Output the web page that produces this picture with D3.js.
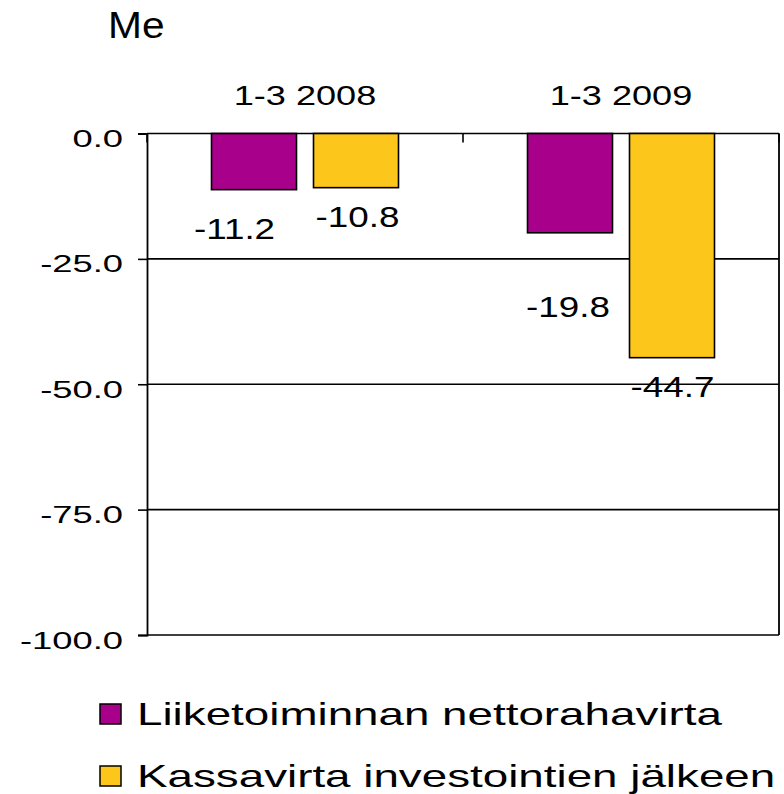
<!DOCTYPE html>
<html>
<head>
<meta charset="utf-8">
<script src="https://cdn.jsdelivr.net/npm/d3@7"></script>
<style>
  html, body { margin: 0; padding: 0; background: #fff; }
  svg { display: block; }
  text { font-family: "Liberation Sans", Arial, sans-serif; fill: #000; }
</style>
</head>
<body>
<div id="chart"></div>
<script>
// ---- data ----
const categories = ["1-3 2008", "1-3 2009"];
const seriesNames = ["Liiketoiminnan nettorahavirta", "Kassavirta investointien jälkeen"];
const liiketoiminnanNettorahavirta = [-11.2, -19.8];
const kassavirtaInvestointienJalkeen = [-10.8, -44.7];
const yTickValues = [0, -25, -50, -75, -100];
const unitLabel = "Me";

// ---- styles / layout ----
const seriesColors = ["#A8008A", "#FCC71A"];
const W = 784, H = 794;
const plot = { left: 147, right: 779, top: 133.5, bottom: 635 };
// label nudges (dx, dy from bar end) to mimic the reference label placement
const labelNudge = [
  [[-19.5, 49], [-2, 84]],
  [[1.5, 39], [0.5, 39]]
];

const seriesValues = [liiketoiminnanNettorahavirta, kassavirtaInvestointienJalkeen];

const svg = d3.select("#chart").append("svg")
  .attr("width", W).attr("height", H);

const y = d3.scaleLinear().domain([-100, 0]).range([plot.bottom, plot.top]);
const x0 = d3.scaleBand().domain(categories).range([plot.left, plot.right]).padding(0);
const groupPad = 64.5;
const x1 = d3.scaleBand().domain(d3.range(seriesNames.length))
  .range([groupPad, x0.bandwidth() - groupPad]).paddingInner(0.1667).paddingOuter(0);

function scaledText(g, x, yy, txt, size, sx, anchor) {
  return g.append("text")
    .attr("transform", `translate(${x},${yy}) scale(${sx},1)`)
    .attr("text-anchor", anchor || "middle")
    .style("font-size", size + "px")
    .text(txt);
}

// gridlines
svg.append("g").selectAll("line").data(yTickValues).join("line")
  .attr("x1", plot.left).attr("x2", plot.right)
  .attr("y1", d => y(d)).attr("y2", d => y(d))
  .attr("stroke", "#000").attr("stroke-width", 1.6);

// y axis
const yAxis = svg.append("g").attr("transform", `translate(${plot.left},0)`)
  .call(d3.axisLeft(y).tickValues(yTickValues).tickSize(9).tickFormat(d => d.toFixed(1)));
yAxis.select(".domain").attr("stroke", "#000").attr("stroke-width", 1.8);
yAxis.selectAll(".tick line").attr("stroke", "#000").attr("stroke-width", 1.6);
const ySx = 1.58;
yAxis.selectAll(".tick text")
  .attr("transform", `scale(${ySx},1)`)
  .attr("x", -24 / ySx)
  .attr("dy", "13px")
  .attr("font-family", null)
  .attr("font-size", null)
  .style("font-size", "23px")
  .style("font-family", '"Liberation Sans", Arial, sans-serif');

// right border
svg.append("line")
  .attr("x1", plot.right).attr("x2", plot.right)
  .attr("y1", y(0)).attr("y2", y(-100))
  .attr("stroke", "#000").attr("stroke-width", 1.8);

// category boundary ticks at zero line
const boundaries = categories.map(c => x0(c)).concat([x0.range()[1]]);
svg.append("g").selectAll("line").data(boundaries).join("line")
  .attr("x1", d => d).attr("x2", d => d)
  .attr("y1", y(0)).attr("y2", y(0) + 9)
  .attr("stroke", "#000").attr("stroke-width", 1.6);

// bars
const groups = svg.append("g").selectAll("g").data(categories).join("g")
  .attr("transform", c => `translate(${x0(c)},0)`);

groups.each(function(c, ci) {
  const g = d3.select(this);
  seriesValues.forEach((vals, si) => {
    const v = vals[ci];
    g.append("rect")
      .attr("x", x1(si))
      .attr("width", x1.bandwidth())
      .attr("y", y(Math.max(0, v)))
      .attr("height", Math.abs(y(v) - y(0)))
      .attr("fill", seriesColors[si])
      .attr("stroke", "#000").attr("stroke-width", 1.6);
    const nd = labelNudge[si][ci];
    scaledText(g, x1(si) + x1.bandwidth() / 2 + nd[0], y(v) + nd[1], v.toFixed(1), 29, 1.27, "middle");
  });
  // category label
  scaledText(g, x0.bandwidth() / 2, 105, c, 28, 1.29, "middle");
});

// unit label
scaledText(svg, 108, 38, unitLabel, 37, 1.1, "start");

// legend
const legendRows = [725, 787];
seriesNames.forEach((name, i) => {
  const by = legendRows[i];
  svg.append("rect")
    .attr("x", 100).attr("y", by - 21)
    .attr("width", 21).attr("height", 20)
    .attr("fill", seriesColors[i])
    .attr("stroke", "#000").attr("stroke-width", 1.5);
  scaledText(svg, 137, by, name, 32, 1.43, "start");
});
</script>
</body>
</html>
